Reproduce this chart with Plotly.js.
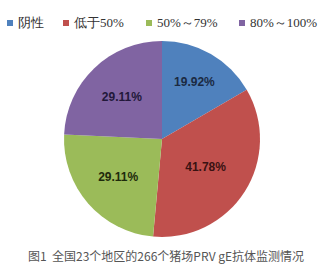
<!DOCTYPE html>
<html><head><meta charset="utf-8">
<script src="https://cdn.plot.ly/plotly-3.0.1.min.js"></script>
<style>html,body{margin:0;padding:0;background:#fff}#c{width:330px;height:274px}</style>
</head><body><div id="c"></div>
<script>
const categories = ['阴性', '低于50%', '50%～79%', '80%～100%'];
const values = [19.92, 41.78, 29.11, 29.11];
const valueLabels = ['19.92%', '41.78%', '29.11%', '29.11%'];
const caption = '图1  全国23个地区的266个猪场PRV gE抗体监测情况';

const colors = ['#4F81BD', '#C0504D', '#9BBB59', '#8064A2'];
const labelColors = ['#1b2a42', '#3a1212', '#1e2a0c', '#22183a'];
const W = 330, H = 274;
// legend layout (pixels)
const legSquareX = [7, 63, 146, 239];
const legY = 23, sq = 6;

const shapes = [], annotations = [];
categories.forEach((c, i) => {
  shapes.push({type:'rect', xref:'paper', yref:'paper',
    x0: legSquareX[i]/W, x1: (legSquareX[i]+sq)/W,
    y0: 1-(legY+sq/2)/H, y1: 1-(legY-sq/2)/H,
    fillcolor: colors[i], line:{width:0}});
  annotations.push({xref:'paper', yref:'paper', x:(legSquareX[i]+sq+3)/W, y:1-legY/H,
    xanchor:'left', yanchor:'middle', showarrow:false, text:c,
    font:{family:'Liberation Serif, serif', size:13, color:'#333'}});
});
annotations.push({xref:'paper', yref:'paper', x:166/W, y:1-255/H, xanchor:'center', yanchor:'middle',
  showarrow:false, text:caption, font:{family:'Noto Sans CJK SC, sans-serif', size:12, color:'#555'}});

const cx = 162, cy = 139, R = 98;
Plotly.newPlot('c', [{
  type:'pie', labels:categories, values:values, text:valueLabels,
  textinfo:'text', textposition:'inside', insidetextorientation:'horizontal',
  sort:false, direction:'clockwise', rotation:0,
  marker:{colors:colors, line:{width:0}},
  textfont:{family:'Liberation Sans, Arial, sans-serif', size:12, color:labelColors, weight:'bold'},
  hoverinfo:'none', showlegend:false,
  domain:{x:[(cx-R)/W, (cx+R)/W], y:[1-(cy+R)/H, 1-(cy-R)/H]}
}], {
  width:W, height:H, margin:{l:0,r:0,t:0,b:0},
  paper_bgcolor:'#fff', plot_bgcolor:'#fff', showlegend:false,
  shapes:shapes, annotations:annotations
}, {staticPlot:true, displayModeBar:false});
</script></body></html>
